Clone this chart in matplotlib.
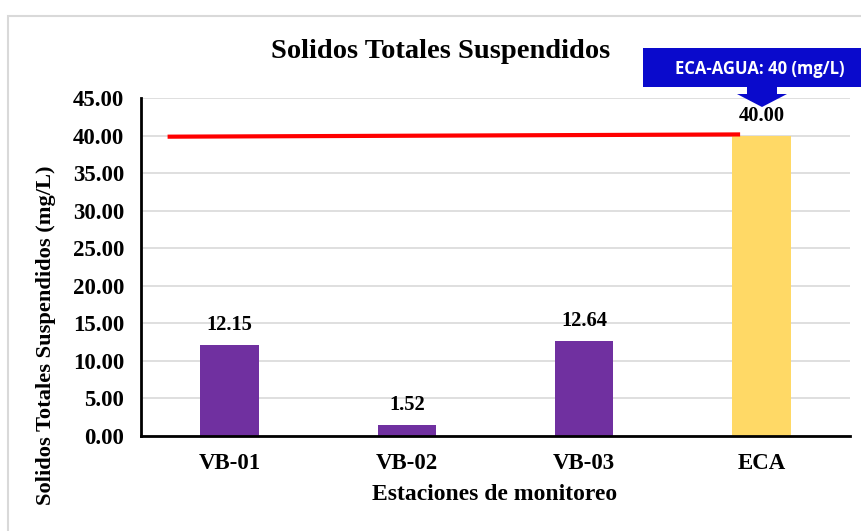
import matplotlib
matplotlib.use("Agg")
import matplotlib.pyplot as plt
from matplotlib.patches import Rectangle, Polygon

categories = ["VB-01", "VB-02", "VB-03", "ECA"]
values = [12.15, 1.52, 12.64, 40.00]
bar_colors = ["#7030A0", "#7030A0", "#7030A0", "#FFD966"]
yticks = [0, 5, 10, 15, 20, 25, 30, 35, 40, 45]
limit_x = [-0.35, 2.88]
limit_y = [39.85, 40.15]
title = "Solidos Totales Suspendidos"
ylabel = "Solidos Totales Suspendidos (mg/L)"
xlabel = "Estaciones de monitoreo"
callout = "ECA-AGUA: 40 (mg/L)"

W, H = 862, 531
fig = plt.figure(figsize=(W / 100, H / 100), dpi=100)
serif = "Liberation Serif"

# chart border
fig.patches.append(Rectangle((8 / W, -0.1), 1.2, 1 - 16 / H + 0.1, transform=fig.transFigure,
                             fill=False, edgecolor="#D9D9D9", linewidth=1.5))

ax = fig.add_axes([141 / W, 1 - 436 / H, (850 - 141) / W, (436 - 98) / H])
x = list(range(len(categories)))
ax.bar(x, values, width=0.33, color=bar_colors, zorder=2)
ax.plot(limit_x, limit_y, color="#FF0000", linewidth=3, zorder=3, solid_capstyle="butt")

ax.set_xlim(-0.5, 3.5)
ax.set_ylim(0, 45)
ax.set_yticks(yticks)
ax.set_yticklabels([f"{v:.2f}" for v in yticks], fontfamily=serif, fontweight="bold", fontsize=16.5)
ax.set_xticks(x)
ax.set_xticklabels(categories, fontfamily=serif, fontweight="bold", fontsize=16.5)
ax.tick_params(axis="y", length=0, pad=12)
ax.tick_params(axis="x", length=0, pad=12)
ax.grid(axis="y", color="#D9D9D9", linewidth=1.2, zorder=0)
ax.set_axisbelow(True)
for s in ["top", "right"]:
    ax.spines[s].set_visible(False)
ax.spines["left"].set_linewidth(2)
ax.spines["bottom"].set_linewidth(2)

for xi, v in zip(x, values):
    ax.annotate(f"{v:.2f}", (xi, v), xytext=(0, 7), textcoords="offset points",
                ha="center", va="bottom", fontfamily=serif, fontweight="bold", fontsize=14.8)

fig.text(441 / W, 1 - 51 / H, title, ha="center", va="center", fontfamily=serif,
         fontweight="bold", fontsize=20.5)
fig.text(46 / W, 1 - 335 / H, ylabel, ha="center", va="center", rotation=90,
         fontfamily=serif, fontweight="bold", fontsize=16.2)
fig.text(495 / W, 1 - 494 / H, xlabel, ha="center", va="center", fontfamily=serif,
         fontweight="bold", fontsize=17)

# callout box and arrow
blue = "#0A0ACC"
fig.patches.append(Rectangle((643 / W, 1 - 87 / H), (862 - 643) / W, 39 / H,
                             transform=fig.transFigure, facecolor=blue, edgecolor="none"))
arrow = [(747, 87), (777, 87), (777, 94), (787, 94), (762, 107), (737, 94), (747, 94)]
fig.patches.append(Polygon([(px / W, 1 - py / H) for px, py in arrow], closed=True,
                           transform=fig.transFigure, facecolor=blue, edgecolor="none"))
fig.text(760 / W, 1 - 69 / H, callout, ha="center", va="center", color="white",
         fontfamily="Open Sans", fontweight="bold", fontsize=12)

fig.savefig("out.png", dpi=100)
